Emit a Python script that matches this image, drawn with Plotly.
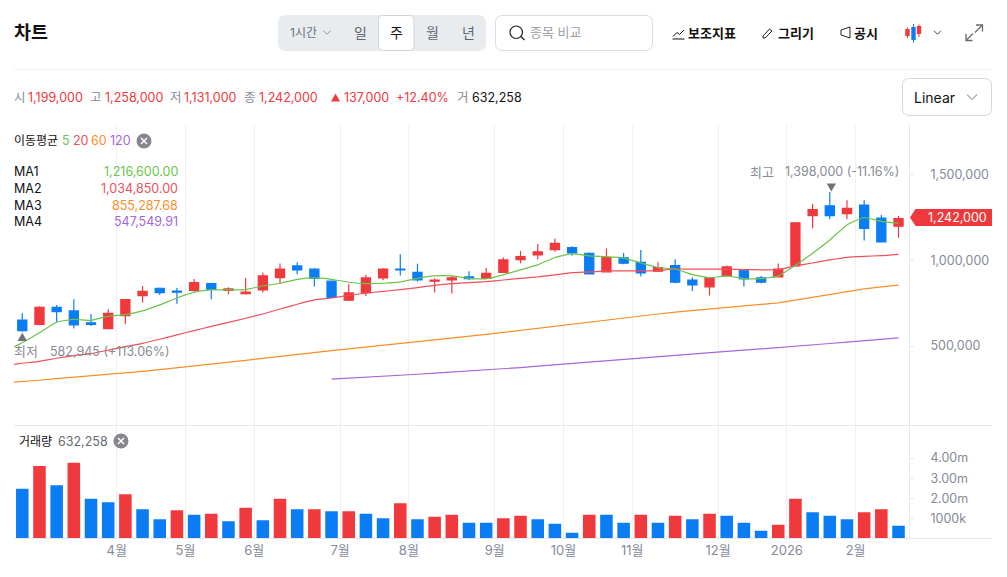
import numpy as np
import plotly.graph_objects as go
from plotly.subplots import make_subplots

W, H = 1007, 577
FONT = "Inter, 'Noto Sans CJK KR', sans-serif"
RED = '#f0393d'
BLUE = '#0a7df5'
GREEN = '#6cc34a'
LINE_RED = '#f0505a'
ORANGE = '#f98f2b'
PURPLE = '#a866d9'
GREY = '#868b94'
AXIS_GREY = '#858a99'
EDGE = '#e6e8eb'

# weekly candles, thousand won
opens = [652, 627, 726, 705, 635, 602, 678, 794, 837, 821, 825, 864, 825, 806, 827, 899, 967, 948,
         878, 767, 812, 897, 949, 930, 878, 885, 903, 895, 930, 1004, 1031, 1062, 1074, 1041, 932,
         1014, 988, 936, 969, 885, 845, 909, 942, 897, 903, 967, 1260, 1317, 1272, 1322, 1245, 1199]
highs = [691, 732, 740, 773, 687, 714, 775, 850, 841, 839, 891, 868, 843, 897, 928, 981, 988, 955,
         881, 862, 915, 953, 1035, 979, 895, 909, 936, 955, 1016, 1054, 1095, 1126, 1082, 1047, 1068,
         1043, 1060, 988, 1006, 901, 899, 969, 948, 909, 981, 1218, 1328, 1398, 1350, 1350, 1264, 1258]
lows = [583, 621, 641, 602, 617, 598, 629, 753, 798, 747, 817, 773, 800, 800, 812, 866, 918, 847,
        782, 763, 792, 883, 911, 876, 812, 806, 885, 889, 926, 983, 1004, 1049, 1027, 918, 928,
        977, 905, 932, 866, 821, 794, 905, 847, 866, 899, 963, 1186, 1239, 1239, 1115, 1107, 1131]
closes = [590, 726, 701, 623, 627, 691, 771, 819, 812, 814, 870, 831, 833, 814, 909, 949, 944, 895,
          784, 810, 897, 949, 944, 885, 885, 897, 893, 924, 1002, 1021, 1049, 1099, 1043, 920, 1016,
          983, 926, 957, 872, 856, 899, 961, 891, 872, 948, 1218, 1295, 1260, 1303, 1186, 1107, 1242]

# moving averages, the first value sits one week left of the visible range
ma5 = [472, 520, 578, 639, 656, 650, 674, 683, 705, 740, 780, 814, 827, 827, 829, 850, 866, 889, 897,
       889, 872, 864, 866, 874, 895, 909, 909, 895, 893, 915, 944, 973, 1016, 1039, 1025, 1021, 1012,
       984, 957, 949, 916, 899, 909, 893, 893, 909, 971, 1041, 1118, 1206, 1249, 1227, 1216.6]
ma20 = [386, 400, 411, 429, 444, 456, 476, 497, 516, 540, 565, 590, 615, 638, 662, 687, 716, 744, 769,
        780, 796, 808, 819, 829, 841, 854, 864, 870, 876, 885, 895, 903, 915, 928, 932, 938, 938,
        938, 940, 949, 948, 948, 948, 946, 944, 946, 967, 984, 1002, 1017, 1023, 1027, 1034.85]
ma60 = [287, 293, 301, 310, 318, 326, 334, 343, 353, 363, 373, 384, 394, 406, 417, 429, 441, 452, 464,
        474, 484, 494, 504, 515, 526, 536, 546, 557, 568, 580, 592, 605, 618, 631, 642, 653, 664,
        675, 687, 698, 707, 716, 724, 732, 740, 752, 768, 785, 803, 820, 833, 845, 855.29]
ma120 = [307, 312, 318, 324, 330, 336, 342, 348, 354, 360, 367, 375, 383, 391, 399, 407, 415, 423,
         432, 441, 448, 455, 462, 469, 476, 483, 491, 499, 507, 515, 523, 531, 539, 547.55]
ma120_start = 18

# million shares, colour kept as drawn in the volume panel
volumes = [2.47, 3.60, 2.65, 3.77, 1.97, 1.80, 2.20, 1.45, 0.95, 1.40, 1.18, 1.23, 0.85, 1.52, 0.90,
           1.97, 1.45, 1.45, 1.35, 1.35, 1.23, 1.00, 1.75, 0.95, 1.07, 1.18, 0.78, 0.78, 1.00, 1.12,
           0.95, 0.72, 0.28, 1.18, 1.18, 0.78, 1.18, 0.78, 1.12, 0.95, 1.23, 1.12, 0.78, 0.38, 0.67,
           1.97, 1.30, 1.12, 0.95, 1.30, 1.45, 0.62]
vol_red = [0, 1, 0, 1, 0, 0, 1, 0, 0, 1, 0, 1, 0, 1, 0, 1, 0, 1, 0, 1, 0, 0, 1, 0, 1, 1, 0, 0, 1, 1,
           0, 0, 0, 1, 0, 0, 1, 0, 1, 0, 1, 0, 0, 0, 1, 1, 0, 0, 0, 1, 1, 0]

month_start = [6, 10, 14, 19, 23, 28, 32, 36, 41, 45, 49]
month_labels = ['4월', '5월', '6월', '7월', '8월', '9월', '10월', '11월', '12월', '2026', '2월']

price_ticks = [500000, 1000000, 1500000]
price_labels = ['500,000', '1,000,000', '1,500,000']
vol_ticks = [1, 2, 3, 4]
vol_labels = ['1000k', '2.00m', '3.00m', '4.00m']

ma_legend = [('MA1', '1,216,600.00', GREEN, 172), ('MA2', '1,034,850.00', LINE_RED, 188.5),
             ('MA3', '855,287.68', ORANGE, 205), ('MA4', '547,549.91', PURPLE, 221.5)]
ohlc_row = [(14, '시', GREY), (28, '1,199,000', RED), (90, '고', GREY), (105, '1,258,000', RED),
            (170, '저', GREY), (184, '1,131,000', RED), (244, '종', GREY), (259, '1,242,000', RED),
            (344, '137,000', RED), (396, '+12.40%', RED), (457, '거', GREY), (472, '632,258', '#111111')]


def px(x):
    return x / W


def py(y):
    return 1 - y / H


def path(points, close=False):
    s = 'M ' + ' L '.join(f'{px(x):.5f} {py(y):.5f}' for x, y in points)
    return s + ' Z' if close else s


def round_rect(x0, y0, x1, y1, r):
    p = lambda x, y: f'{px(x):.5f} {py(y):.5f}'
    return (f'M {p(x0 + r, y0)} L {p(x1 - r, y0)} Q {p(x1, y0)} {p(x1, y0 + r)} L {p(x1, y1 - r)} '
            f'Q {p(x1, y1)} {p(x1 - r, y1)} L {p(x0 + r, y1)} Q {p(x0, y1)} {p(x0, y1 - r)} '
            f'L {p(x0, y0 + r)} Q {p(x0, y0)} {p(x0 + r, y0)} Z')


shapes = []
annotations = []


def add_path(d, fill=None, line=None, width=1):
    shapes.append(dict(type='path', xref='paper', yref='paper', path=d,
                       fillcolor=fill or 'rgba(0,0,0,0)',
                       line=dict(color=line or 'rgba(0,0,0,0)', width=width if line else 0)))


def label(x, y, text, color='#111111', size=12.5, anchor='left', bold=False):
    # annotations keep about 1px of padding inside their box
    x = x - 1 if anchor == 'left' else x + 1 if anchor == 'right' else x
    annotations.append(dict(xref='paper', yref='paper', x=px(x), y=py(y), text=f'<b>{text}</b>' if bold else text,
                            showarrow=False, xanchor=anchor, yanchor='middle', borderpad=0,
                            font=dict(family=FONT, size=size, color=color)))


def chevron(cx, cy, w, h, color, width=1):
    add_path(path([(cx - w / 2, cy - h / 2), (cx, cy + h / 2), (cx + w / 2, cy - h / 2)]), line=color, width=width)


def close_icon(cx, cy):
    shapes.append(dict(type='circle', xref='paper', yref='paper', x0=px(cx - 7.5), x1=px(cx + 7.5),
                       y0=py(cy + 7.5), y1=py(cy - 7.5), fillcolor='#85878d', line=dict(width=0)))
    add_path(path([(cx - 3, cy - 3), (cx + 3, cy + 3)]), line='white', width=1.4)
    add_path(path([(cx - 3, cy + 3), (cx + 3, cy - 3)]), line='white', width=1.4)


fig = make_subplots(rows=2, cols=1, shared_xaxes=True, vertical_spacing=0)

bars = list(range(len(closes)))
fig.add_trace(go.Candlestick(x=bars, open=np.array(opens) * 1000, high=np.array(highs) * 1000,
                             low=np.array(lows) * 1000, close=np.array(closes) * 1000,
                             increasing=dict(line=dict(color=RED, width=1.2), fillcolor=RED),
                             decreasing=dict(line=dict(color=BLUE, width=1.2), fillcolor=BLUE),
                             whiskerwidth=0, hoverinfo='skip'), row=1, col=1)

ma_x = list(range(-1, len(closes)))
for values, x, color, smooth in [(ma60, ma_x, ORANGE, 0), (ma20, ma_x, LINE_RED, 0.4), (ma5, ma_x, GREEN, 0.4),
                                 (ma120, bars[ma120_start:], PURPLE, 0)]:
    fig.add_trace(go.Scatter(x=x, y=np.array(values) * 1000, mode='lines', hoverinfo='skip',
                             line=dict(color=color, width=1.2, shape='spline' if smooth else 'linear',
                                       smoothing=smooth)),
                  row=1, col=1)

fig.add_trace(go.Bar(x=bars, y=volumes, width=0.73, hoverinfo='skip',
                     marker=dict(color=[RED if r else BLUE for r in vol_red], line=dict(width=0))),
              row=2, col=1)

# header
label(14, 32, '차트', size=18.5, bold=True)
add_path(round_rect(278, 15, 486, 51, 8), fill='#e9ecef')
add_path(round_rect(378.5, 15.5, 414, 50.5, 4), fill='white', line='#cfd3d8')
label(290, 33, '1시간', '#6b7280', 12)
chevron(327, 32.5, 7, 3.5, '#8b9099')
label(360.5, 32.5, '일', '#5f6670', 14, 'center')
label(396, 32.5, '주', '#111111', 14, 'center')
label(432, 32.5, '월', '#5f6670', 14, 'center')
label(468.5, 32.5, '년', '#5f6670', 14, 'center')
add_path(round_rect(495.5, 15.5, 652.5, 50.5, 7), fill='white', line='#d9dce0')
shapes.append(dict(type='circle', xref='paper', yref='paper', x0=px(510), x1=px(522.5), y0=py(38.5), y1=py(26),
                   line=dict(color='#222222', width=1.2)))
add_path(path([(521, 36.5), (524.5, 40)]), line='#222222', width=1.2)
label(530, 32.5, '종목 비교', '#9ca1a9', 13)

add_path(path([(672.5, 39), (684.5, 39)]), line='#111111', width=1)
add_path(path([(673, 36.5), (677, 32.5), (679.5, 34.5), (684, 30)]), line='#111111', width=1)
label(688, 33, '보조지표', size=13, bold=True)
add_path(path([(763, 36), (769.5, 29), (772, 31), (765, 38), (763, 38)], close=True), line='#222222', width=1)
label(778, 33, '그리기', size=13, bold=True)
add_path(path([(841, 30), (850, 27), (850, 38), (841, 35)], close=True), line='#222222', width=1)
label(854, 33, '공시', size=13, bold=True)

# candle icon
for x, top, bot, wt, wb, c in [(907.5, 29, 36, 27.5, 38, RED), (913.5, 27, 40, 24, 42.5, BLUE), (919, 26, 34, 24.5, 37, RED)]:
    add_path(path([(x, wt), (x, wb)]), line=c, width=1)
    add_path(path([(x - 2.2, top), (x + 2.2, top), (x + 2.2, bot), (x - 2.2, bot)], close=True), fill=c)
chevron(937.5, 32.5, 7, 3.5, '#444444')
# expand icon
add_path(path([(976, 25), (982.5, 25), (982.5, 31.5)]), line='#666b73', width=1.3)
add_path(path([(982, 25.5), (975, 32.5)]), line='#666b73', width=1.3)
add_path(path([(966, 34), (966, 40.5), (972.5, 40.5)]), line='#666b73', width=1.3)
add_path(path([(966.5, 40), (973, 33.5)]), line='#666b73', width=1.3)

add_path(path([(14, 69.5), (992, 69.5)]), line='#f0f1f3')

# info row
for x, text, color in ohlc_row:
    label(x, 97, text, color)
add_path(path([(331, 101.5), (340, 101.5), (335.5, 93.5)], close=True), fill=RED)
add_path(round_rect(902.5, 78.5, 991.5, 115.5, 7), fill='white', line='#d3d6da')
label(914, 97, 'Linear', size=14)
chevron(972, 97, 10, 5, '#6b7078')

# moving average legend
label(14, 141, '이동평균', size=12)
label(62, 141, '5', GREEN)
label(73, 141, '20', LINE_RED)
label(91, 141, '60', ORANGE)
label(110, 141, '120', PURPLE)
close_icon(144, 141)
for name, value, color, y in ma_legend:
    label(14, y, name, size=12.5)
    label(178, y, value, color, 12.5, 'right')

# high / low marks
label(750, 172, '최고', GREY, 13)
label(785, 172, '1,398,000 (-11.16%)', GREY, 12.5)
add_path(path([(826.7, 183.5), (836, 183.5), (831.3, 191.5)], close=True), fill='#6f7278')
label(14, 351, '최저', GREY, 13)
label(50, 351, '582,945 (+113.06%)', GREY, 12.5)
add_path(path([(17.5, 341), (27, 341), (22.3, 332.8)], close=True), fill='#6f7278')

# last price tag
add_path(path([(910, 217.5), (915.5, 209), (992, 209), (992, 226), (915.5, 226)], close=True), fill=RED)
label(928, 217.5, '1,242,000', 'white', 12.5)

# volume legend
label(19, 441, '거래량', size=12)
label(58, 441, '632,258', '#666b73', 12.5)
close_icon(121, 441)

# panel borders
add_path(path([(14, 425.5), (992, 425.5)]), line=EDGE)
add_path(path([(14, 538.5), (992, 538.5)]), line=EDGE)

grid_pos = [m - 0.5 for m in month_start]
fig.update_layout(width=W, height=H, autosize=False, margin=dict(l=0, r=0, t=0, b=0), showlegend=False,
                  paper_bgcolor='white', plot_bgcolor='white', boxgap=0.24, shapes=shapes, annotations=annotations,
                  font=dict(family=FONT, size=13, color=AXIS_GREY))
fig.update_xaxes(range=[-0.483, 51.61], domain=[px(14), px(909)], tickmode='array', tickvals=grid_pos,
                 ticktext=month_labels, showgrid=True, gridcolor='#eff0f2', gridwidth=1, zeroline=False,
                 showline=False, ticks='', rangeslider_visible=False)
fig.update_xaxes(showticklabels=False, row=1, col=1)
fig.update_xaxes(showticklabels=True, tickfont=dict(size=13, color=AXIS_GREY), ticklabelstandoff=3, row=2, col=1)
fig.update_yaxes(side='right', showgrid=False, zeroline=False, showline=True, linecolor=EDGE, mirror=False,
                 ticks='outside', ticklen=4, tickcolor=EDGE, tickfont=dict(size=12.5, color=AXIS_GREY), ticklabelstandoff=14)
fig.update_yaxes(domain=[py(425), py(125)], range=[40300, 1788000], tickmode='array', tickvals=price_ticks,
                 ticktext=price_labels, row=1, col=1)
fig.update_yaxes(domain=[py(538.3), py(426)], range=[0, 5.6], tickmode='array', tickvals=vol_ticks,
                 ticktext=vol_labels, row=2, col=1)

fig.write_html("out.html", config=dict(displayModeBar=False),
               post_script="document.body.style.margin='0';document.body.style.overflow='hidden';")
